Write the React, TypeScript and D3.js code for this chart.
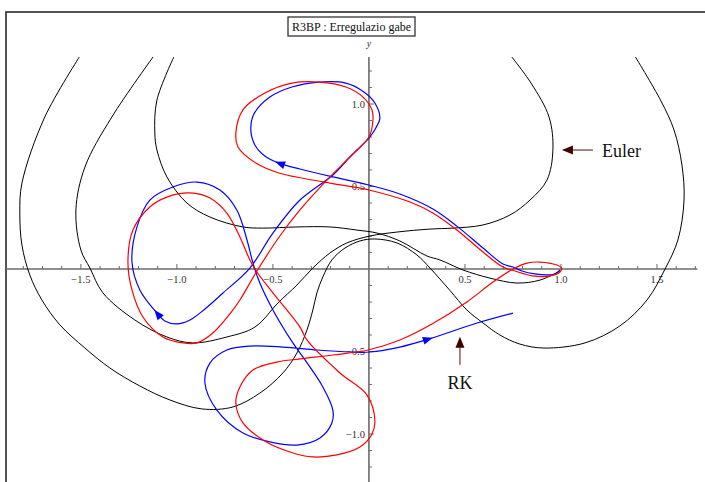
import React from 'react';
import * as d3 from 'd3';

const W = 705;
const H = 482;

type Pt = [number, number];

// Runge-Kutta trajectory (blue), in rotating-frame coordinates
const rkPath: Pt[] = [
  [0.995, -0.006], [0.969, -0.03], [0.927, -0.036], [0.865, -0.03], [0.797, -0.012],
  [0.75, 0.012], [0.698, 0.03], [0.594, 0.127], [0.458, 0.26], [0.333, 0.364],
  [0.161, 0.455], [0.0, 0.509], [-0.188, 0.558], [-0.359, 0.606], [-0.469, 0.642],
  [-0.542, 0.685], [-0.594, 0.752], [-0.615, 0.842], [-0.599, 0.939], [-0.516, 1.042],
  [-0.401, 1.103], [-0.26, 1.133], [-0.12, 1.127], [-0.026, 1.073], [0.031, 1.006],
  [0.057, 0.915], [0.036, 0.855], [0.0, 0.794], [-0.047, 0.739], [-0.099, 0.679],
  [-0.188, 0.57], [-0.359, 0.418], [-0.5, 0.218], [-0.62, 0.006], [-0.76, -0.145],
  [-0.854, -0.242], [-0.932, -0.309], [-1.0, -0.333], [-1.063, -0.315], [-1.104, -0.267],
  [-1.193, -0.127], [-1.234, 0.042], [-1.208, 0.255], [-1.141, 0.418], [-1.021, 0.497],
  [-0.896, 0.527], [-0.776, 0.479], [-0.688, 0.358], [-0.635, 0.176], [-0.604, 0.036],
  [-0.568, -0.085], [-0.5, -0.248], [-0.396, -0.448], [-0.344, -0.533], [-0.24, -0.715],
  [-0.188, -0.855], [-0.193, -0.933], [-0.255, -1.024], [-0.375, -1.067], [-0.516, -1.048],
  [-0.656, -0.994], [-0.792, -0.855], [-0.854, -0.691], [-0.828, -0.57], [-0.74, -0.491],
  [-0.62, -0.467], [-0.448, -0.473], [-0.271, -0.491], [-0.099, -0.503], [0.005, -0.503],
  [0.161, -0.473], [0.313, -0.424], [0.563, -0.327], [0.75, -0.267],
];

// points of rkPath that carry a direction arrow
const rkArrowAt = [14, 39, 71];

// reference trajectory (red)
const refPath: Pt[] = [
  [1.005, 0.006], [0.995, -0.018], [0.943, -0.042], [0.854, -0.042], [0.76, -0.012],
  [0.698, 0.012], [0.594, 0.103], [0.458, 0.236], [0.333, 0.339], [0.214, 0.406],
  [0.0, 0.479], [-0.203, 0.521], [-0.469, 0.582], [-0.589, 0.642], [-0.682, 0.739],
  [-0.693, 0.824], [-0.656, 0.964], [-0.542, 1.067], [-0.401, 1.127], [-0.26, 1.133],
  [-0.12, 1.103], [-0.031, 1.042], [0.016, 0.964], [0.021, 0.903], [0.0, 0.8],
  [-0.099, 0.679], [-0.203, 0.558], [-0.359, 0.358], [-0.464, 0.2], [-0.583, -0.012],
  [-0.672, -0.188], [-0.708, -0.248], [-0.813, -0.388], [-0.896, -0.448], [-0.969, -0.448],
  [-1.073, -0.412], [-1.177, -0.291], [-1.234, -0.127], [-1.255, 0.042], [-1.229, 0.236],
  [-1.141, 0.376], [-1.052, 0.436], [-0.932, 0.461], [-0.828, 0.43], [-0.74, 0.339],
  [-0.672, 0.194], [-0.62, 0.055], [-0.583, -0.018], [-0.5, -0.145], [-0.359, -0.352],
  [-0.323, -0.43], [-0.151, -0.63], [-0.01, -0.764], [0.031, -0.918], [0.016, -1.0],
  [-0.047, -1.079], [-0.167, -1.127], [-0.292, -1.139], [-0.411, -1.109], [-0.552, -1.036],
  [-0.656, -0.933], [-0.693, -0.812], [-0.672, -0.715], [-0.604, -0.612], [-0.479, -0.564],
  [-0.359, -0.545], [-0.188, -0.521], [-0.005, -0.491], [0.161, -0.43], [0.333, -0.33],
  [0.51, -0.2], [0.646, -0.079], [0.76, 0.006], [0.823, 0.036], [0.891, 0.042],
  [0.979, 0.024], [1.005, 0.006],
];

// Euler trajectory (black): three passes through the plotting window
const eulerInner: Pt[] = [
  [0.995, -0.012], [0.891, -0.067], [0.771, -0.085], [0.63, -0.055], [0.49, -0.006],
  [0.37, 0.055], [0.302, 0.079], [0.161, 0.17], [0.042, 0.218], [-0.063, 0.236],
  [-0.203, 0.255], [-0.375, 0.255], [-0.552, 0.248], [-0.656, 0.255], [-0.828, 0.315],
  [-0.948, 0.4], [-1.052, 0.558], [-1.104, 0.721], [-1.115, 0.824], [-1.104, 1.024],
  [-1.01, 1.3],
];

const eulerMiddle: Pt[] = [
  [-1.115, 1.3], [-1.339, 0.921], [-1.479, 0.618], [-1.526, 0.358], [-1.5, 0.115],
  [-1.453, 0.006], [-1.385, -0.145], [-1.219, -0.309], [-1.052, -0.412], [-0.917, -0.448],
  [-0.74, -0.412], [-0.594, -0.352], [-0.474, -0.206], [-0.375, -0.097], [-0.292, 0.006],
  [-0.203, 0.097], [-0.115, 0.158], [0.005, 0.2], [0.146, 0.224], [0.318, 0.242],
  [0.438, 0.248], [0.594, 0.267], [0.734, 0.327], [0.839, 0.418], [0.927, 0.539],
  [0.958, 0.721], [0.938, 0.921], [0.844, 1.127], [0.734, 1.3],
];

const eulerOuter: Pt[] = [
  [-1.5, 1.3], [-1.688, 0.921], [-1.807, 0.521], [-1.818, 0.339], [-1.807, 0.145],
  [-1.766, -0.036], [-1.703, -0.188], [-1.609, -0.339], [-1.479, -0.479], [-1.349, -0.6],
  [-1.193, -0.709], [-1.036, -0.794], [-0.87, -0.848], [-0.708, -0.836], [-0.568, -0.752],
  [-0.448, -0.63], [-0.375, -0.509], [-0.323, -0.37], [-0.292, -0.248], [-0.271, -0.145],
  [-0.24, -0.048], [-0.193, 0.055], [-0.125, 0.127], [-0.047, 0.17], [0.031, 0.182],
  [0.146, 0.158], [0.25, 0.085], [0.318, 0.006], [0.422, -0.13], [0.51, -0.248],
  [0.594, -0.327], [0.682, -0.4], [0.786, -0.455], [0.911, -0.479], [1.125, -0.448],
  [1.307, -0.345], [1.448, -0.188], [1.542, 0.0], [1.609, 0.176], [1.641, 0.418],
  [1.63, 0.63], [1.589, 0.842], [1.521, 1.018], [1.38, 1.3],
];

const xTickLabels = [-1.5, -1.0, -0.5, 0.5, 1.0, 1.5];
const yTickLabels = [-1.0, -0.5, 0.5, 1.0];

const titleText = 'R3BP : Erregulazio gabe';
const eulerNote = { label: 'Euler', x: 1.005, y: 0.721 };
const rkNote = { label: 'RK', x: 0.474, y: -0.41 };

const xScale = d3.scaleLinear().domain([-1.89, 1.71]).range([6, 697.3]);
const yScale = d3.scaleLinear().domain([-1.3, 1.285]).range([483.5, 57]);

const fmt = (v: number) => (v < 0 ? '\u2212' : '') + Math.abs(v).toFixed(1);

export default function App() {
  const line = d3
    .line<Pt>()
    .x((d) => xScale(d[0]))
    .y((d) => yScale(d[1]))
    .curve(d3.curveCatmullRom.alpha(0.5));

  const x0 = xScale(0);
  const y0 = yScale(0);
  const axisColor = '#6a6a6a';

  const xMinor = d3.range(-18, 18).map((i) => i / 10).filter((v) => Math.abs(v) > 1e-9);
  const yMinor = d3.range(-13, 13).map((i) => i / 10).filter((v) => Math.abs(v) > 1e-9);
  const isMajor = (v: number) => Math.abs(v * 2 - Math.round(v * 2)) < 1e-6;

  const arrows = rkArrowAt.map((i) => {
    const a = rkPath[i - 1];
    const b = rkPath[i + 1];
    const p = rkPath[i];
    const ang =
      (Math.atan2(yScale(b[1]) - yScale(a[1]), xScale(b[0]) - xScale(a[0])) * 180) / Math.PI;
    return { x: xScale(p[0]), y: yScale(p[1]), ang };
  });

  const ex = xScale(eulerNote.x);
  const ey = yScale(eulerNote.y);
  const rx = xScale(rkNote.x);
  const ry = yScale(rkNote.y);

  return (
    <svg
      width={W}
      height={H}
      style={{ position: 'absolute', left: 0, top: 0, background: '#fff' }}
      fontFamily="'Liberation Serif', 'Times New Roman', serif"
    >
      <defs>
        <clipPath id="plotArea">
          <rect x={6} y={yScale(1.285)} width={W} height={H} />
        </clipPath>
      </defs>
      <rect x={0} y={0} width={W} height={H} fill="#fff" />
      <rect x={6} y={12} width={W + 20} height={H + 20} fill="none" stroke="#2a2a2a" strokeWidth={1.6} />

      {/* axes */}
      <line x1={xScale(-1.89)} x2={xScale(1.71)} y1={y0} y2={y0} stroke={axisColor} strokeWidth={1.5} />
      <line x1={x0} x2={x0} y1={yScale(1.285)} y2={H + 5} stroke={axisColor} strokeWidth={1.6} />
      {xMinor.map((v) => (
        <line
          key={'xt' + v}
          x1={xScale(v)}
          x2={xScale(v)}
          y1={y0}
          y2={y0 - (isMajor(v) ? 5 : 3)}
          stroke={axisColor}
          strokeWidth={1}
        />
      ))}
      {yMinor.map((v) => (
        <line
          key={'yt' + v}
          x1={x0}
          x2={x0 + (isMajor(v) ? 5 : 3)}
          y1={yScale(v)}
          y2={yScale(v)}
          stroke={axisColor}
          strokeWidth={1}
        />
      ))}
      {xTickLabels.map((v) => (
        <text key={'xl' + v} x={xScale(v)} y={y0 + 14} fontSize={10.5} textAnchor="middle" fill="#333">
          {fmt(v)}
        </text>
      ))}
      {yTickLabels.map((v) => (
        <text key={'yl' + v} x={x0 - 4} y={yScale(v) + 3.5} fontSize={10.5} textAnchor="end" fill="#333">
          {fmt(v)}
        </text>
      ))}
      <text x={x0} y={47} fontSize={10} fontStyle="italic" textAnchor="middle" fill="#333">
        y
      </text>

      {/* trajectories */}
      <g clipPath="url(#plotArea)" fill="none">
        {[eulerInner, eulerMiddle, eulerOuter].map((arc, i) => (
          <path key={'e' + i} d={line(arc) ?? ''} stroke="#000" strokeWidth={1} />
        ))}
        <path d={line(rkPath) ?? ''} stroke="#0000ff" strokeWidth={1.2} />
        <path d={line(refPath) ?? ''} stroke="#ff0000" strokeWidth={1.2} />
      </g>
      {arrows.map((a, i) => (
        <polygon
          key={'ar' + i}
          points="4,0 -6,-4 -6,4"
          fill="#0000ff"
          transform={`translate(${a.x},${a.y}) rotate(${a.ang})`}
        />
      ))}

      {/* title */}
      <rect x={288} y={17} width={127} height={19} fill="#fff" stroke="#222" strokeWidth={1.2} />
      <text x={351.5} y={30.5} fontSize={12} textAnchor="middle" fill="#111">
        {titleText}
      </text>

      {/* annotations */}
      <line x1={ex + 9} x2={ex + 31} y1={ey} y2={ey} stroke="#8a4e4e" strokeWidth={1.4} />
      <polygon points={`${ex},${ey} ${ex + 11},${ey - 4.5} ${ex + 11},${ey + 4.5}`} fill="#3f0000" />
      <text x={ex + 40} y={ey + 6.5} fontSize={18} fill="#111">
        {eulerNote.label}
      </text>

      <line x1={rx} x2={rx} y1={ry + 9} y2={ry + 28} stroke="#8a4e4e" strokeWidth={1.4} />
      <polygon points={`${rx},${ry} ${rx - 4.5},${ry + 11} ${rx + 4.5},${ry + 11}`} fill="#3f0000" />
      <text x={rx} y={ry + 52} fontSize={18} textAnchor="middle" fill="#111">
        {rkNote.label}
      </text>
    </svg>
  );
}
